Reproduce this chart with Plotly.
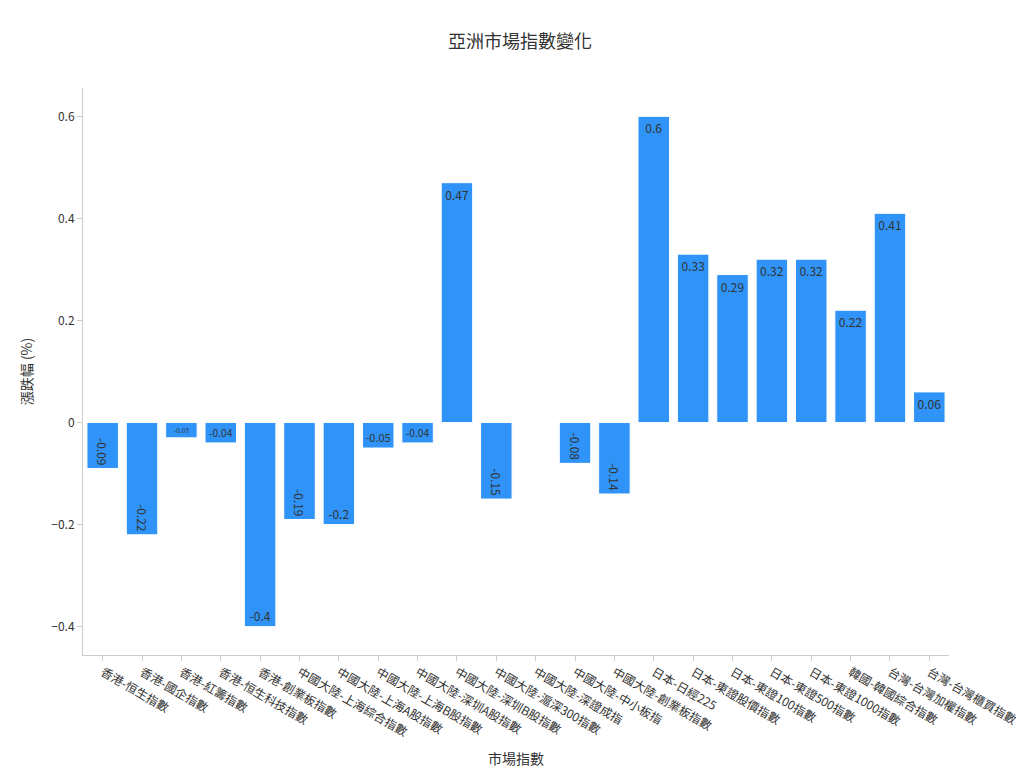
import plotly.graph_objects as go

categories = ["香港-恒生指數","香港-國企指數","香港-紅籌指數","香港-恒生科技指數","香港-創業板指數",
"中國大陸-上海綜合指數","中國大陸-上海A股指數","中國大陸-上海B股指數","中國大陸-深圳A股指數","中國大陸-深圳B股指數",
"中國大陸-滬深300指數","中國大陸-深證成指","中國大陸-中小板指","中國大陸-創業板指數","日本-日經225",
"日本-東證股價指數","日本-東證100指數","日本-東證500指數","日本-東證1000指數","韓國-韓國綜合指數",
"台灣-台灣加權指數","台灣-台灣櫃買指數"]
values = [-0.09,-0.22,-0.03,-0.04,-0.4,-0.19,-0.2,-0.05,-0.04,0.47,-0.15,None,-0.08,-0.14,0.6,0.33,0.29,0.32,0.32,0.22,0.41,0.06]

fig = go.Figure(go.Bar(x=categories, y=values, text=[("" if v is None else str(v)) for v in values],
    textposition="inside", marker=dict(color="#2f93f7", line=dict(color="white", width=1)),
    textfont=dict(color="#333")))
fig.update_layout(
    width=1024, height=768, template="simple_white",
    font=dict(family="Noto Sans CJK TC, DejaVu Sans", size=12, color="#333"),
    title=dict(text="亞洲市場指數變化", x=0.5, xanchor="center", font=dict(size=18)),
    margin=dict(l=75, r=80, t=80, b=120),
    xaxis=dict(title="市場指數", tickangle=30, linecolor="#ccc", tickcolor="#ccc"),
    yaxis=dict(title="漲跌幅 (%)", dtick=0.2, linecolor="#ccc", tickcolor="#ccc", zeroline=False),
    bargap=0.2,
)
fig.write_html("out.html")
